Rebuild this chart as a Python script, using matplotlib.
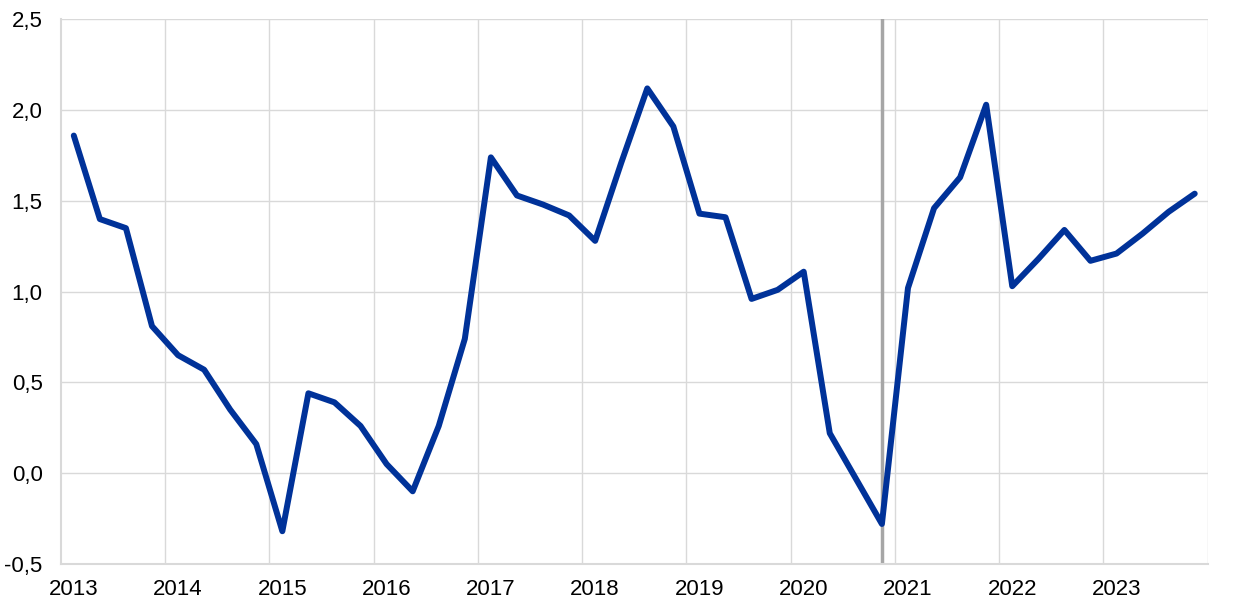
import numpy as np
import matplotlib.pyplot as plt

plt.rcParams['font.family'] = ['Liberation Sans', 'DejaVu Sans']

years = list(range(2013, 2024))
values = [1.86, 1.40, 1.35, 0.81,
          0.65, 0.57, 0.35, 0.16,
          -0.32, 0.44, 0.39, 0.26,
          0.05, -0.10, 0.26, 0.74,
          1.74, 1.53, 1.48, 1.42,
          1.28, 1.71, 2.12, 1.91,
          1.43, 1.41, 0.96, 1.01,
          1.11, 0.22, -0.03, -0.28,
          1.02, 1.46, 1.63, 2.03,
          1.03, 1.18, 1.34, 1.17,
          1.21, 1.32, 1.44, 1.54]
marker_quarter = (2020, 4)

# quarters plotted at mid-quarter positions
x = np.array([y + (q - 0.5) / 4 for y in years for q in range(1, 5)])

fig, ax = plt.subplots(figsize=(12.4, 6.07), dpi=100)
fig.subplots_adjust(left=0.049, right=0.974, top=0.968, bottom=0.071)

ax.axvline(marker_quarter[0] + (marker_quarter[1] - 0.5) / 4, color='#a6a6a6', lw=2.5, zorder=2)
ax.plot(x, values, color='#003299', lw=4.3, solid_joinstyle='round', solid_capstyle='round', zorder=3)

ax.set_xlim(2013, 2024)
ax.set_ylim(-0.5, 2.5)
ax.set_yticks(np.arange(-0.5, 2.51, 0.5))
ax.set_yticklabels([f'{v:.1f}'.replace('.', ',') for v in np.arange(-0.5, 2.51, 0.5)])
ax.set_xticks([y + 0.125 for y in years])
ax.set_xticklabels([str(y) for y in years])
ax.set_xticks(list(range(2014, 2025)), minor=True)

ax.grid(axis='y', color='#d9d9d9', lw=1)
ax.grid(axis='x', which='minor', color='#d9d9d9', lw=1)
ax.tick_params(axis='both', which='both', length=0, labelsize=16, colors='black')
ax.tick_params(axis='x', pad=11)
ax.tick_params(axis='y', pad=13)
for s in ['top', 'right']:
    ax.spines[s].set_visible(False)
for s in ['left', 'bottom']:
    ax.spines[s].set_color('#d9d9d9')
    ax.spines[s].set_linewidth(1.5)

fig.savefig('out.png', dpi=100)
